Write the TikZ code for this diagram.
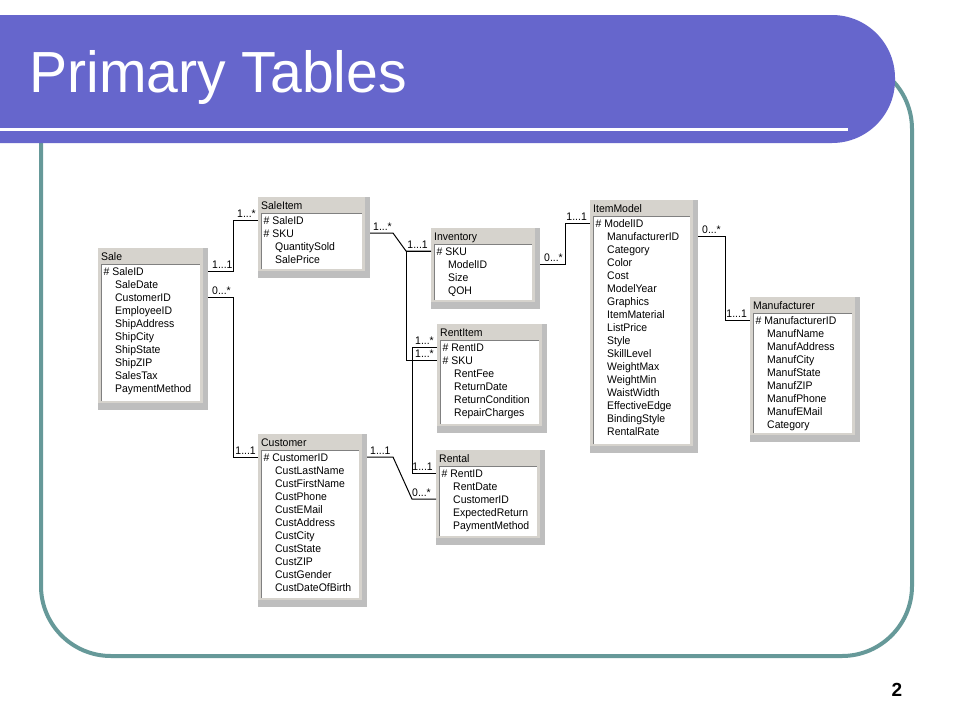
\documentclass[tikz,border=0pt]{standalone}
\usepackage{fontspec}
\setmainfont{Liberation Sans}
\newfontfamily\titlefont[FakeStretch=0.985]{Liberation Sans}
\newfontfamily\tabfont[FakeStretch=0.95]{Liberation Sans}
\usetikzlibrary{calc}
\definecolor{bannerc}{RGB}{102,102,204}
\definecolor{framec}{RGB}{102,153,153}
\definecolor{wingray}{RGB}{214,211,205}
\definecolor{shadowgray}{RGB}{190,190,190}
\definecolor{edgegray}{RGB}{128,128,128}
\tikzset{
  tabwin/.style={fill=shadowgray, inner sep=0pt, outer sep=0pt},
  hdrtext/.style={font=\tabfont\fontsize{11}{12}\selectfont, inner sep=0pt, anchor=west, text height=8pt, text depth=0pt},
  rowtext/.style={font=\tabfont\fontsize{11}{12}\selectfont, inner sep=0pt, anchor=west, text height=8pt, text depth=0pt},
  lbl/.style={font=\tabfont\fontsize{11}{12}\selectfont, inner sep=0pt},
  conn/.style={black, line width=1pt},
}
\newcommand\dbtab[8]{%
  \node[tabwin, minimum width=#4pt, minimum height=#5pt, anchor=north west] (#1) at (#2,#3) {};
  \fill[wingray] (#1.north west) rectangle ($(#1.south east)+(-5,-7)$);
  \fill[white] ($(#1.north west)+(3,16)$) rectangle ($(#1.south east)+(-8,-9)$);
  \draw[edgegray, line width=1pt] ($(#1.south west)+(3.5,-9)$) |- ($(#1.north east)+(-8,16.5)$);
  \node[hdrtext] (#1-t) at ($(#1.north west)+(3,8)$) {#6};
  \foreach \r [count=\i] in {#8} {
    \ifnum\i>#7\relax
      \node[rowtext] (#1-\i) at ($(#1.north west)+(17,{23+13.05*(\i-1)})$) {\r};
    \else
      \node[rowtext] (#1-\i) at ($(#1.north west)+(5.5,{23+13.05*(\i-1)})$) {\#~\r};
    \fi
  }%
}
\begin{document}
\begin{tikzpicture}[x=1pt, y=-1pt]
\useasboundingbox (0,0) rectangle (960,720);
\fill[white] (0,0) rectangle (960,720);
% frame
\draw[framec, line width=4pt, rounded corners=70] (41,59) rectangle (912,656);
% banner
\fill[bannerc, rounded corners=63] (-80,15) rectangle (895,143);
\fill[white] (0,127.5) rectangle (848,130.5);
\node[font=\titlefont\fontsize{58}{64}\selectfont, text=white, inner sep=0pt, anchor=base west] (title) at (29,92) {Primary Tables};
\node[font=\bfseries\fontsize{19}{22}\selectfont, inner sep=0pt] (pagenum) at (897,690) {2};

% tables
\dbtab{sale}{98}{248}{110}{162}{Sale}{1}{SaleID,SaleDate,CustomerID,EmployeeID,ShipAddress,ShipCity,ShipState,ShipZIP,SalesTax,PaymentMethod}
\dbtab{saleitem}{258}{197}{112}{81}{SaleItem}{2}{SaleID,SKU,QuantitySold,SalePrice}
\dbtab{inventory}{431}{228}{109}{81}{Inventory}{1}{SKU,ModelID,Size,QOH}
\dbtab{rentitem}{437}{324}{110}{109}{RentItem}{2}{RentID,SKU,RentFee,ReturnDate,ReturnCondition,RepairCharges}
\dbtab{rental}{436}{450}{109}{95}{Rental}{1}{RentID,RentDate,CustomerID,ExpectedReturn,PaymentMethod}
\dbtab{customer}{258}{434}{109}{173}{Customer}{1}{CustomerID,CustLastName,CustFirstName,CustPhone,CustEMail,CustAddress,CustCity,CustState,CustZIP,CustGender,CustDateOfBirth}
\dbtab{itemmodel}{590}{200}{108}{253}{ItemModel}{1}{ModelID,ManufacturerID,Category,Color,Cost,ModelYear,Graphics,ItemMaterial,ListPrice,Style,SkillLevel,WeightMax,WeightMin,WaistWidth,EffectiveEdge,BindingStyle,RentalRate}
\dbtab{manufacturer}{750}{297}{110}{145}{Manufacturer}{1}{ManufacturerID,ManufName,ManufAddress,ManufCity,ManufState,ManufZIP,ManufPhone,ManufEMail,Category}

% connectors
% Sale - SaleItem
\draw[conn] (sale.east |- sale-1) -- ++(25,0) |- (saleitem.west |- saleitem-1);
\node[lbl, anchor=base west] (l1a) at ($(sale.east |- sale-1)+(4,-3)$) {1...1};
\node[lbl, anchor=base east] (l1b) at ($(saleitem.west |- saleitem-1)+(-2,-3)$) {1...*};
% Sale - Customer
\draw[conn] (sale.east |- sale-3) -- ++(25,0) |- (customer.west |- customer-1);
\node[lbl, anchor=base west] (l2a) at ($(sale.east |- sale-3)+(4,-3)$) {0...*};
\node[lbl, anchor=base east] (l2b) at ($(customer.west |- customer-1)+(-2,-3)$) {1...1};
% SaleItem - Inventory
\draw[conn] (saleitem.east |- saleitem-2) -- ++(23,0) -- ($(inventory.west |- inventory-1)+(-25,0)$) -- (inventory.west |- inventory-1);
\node[lbl, anchor=base west] (l3a) at ($(saleitem.east |- saleitem-2)+(3,-3)$) {1...*};
\node[lbl, anchor=base east] (l3b) at ($(inventory.west |- inventory-1)+(-3,-3)$) {1...1};
% Inventory - RentItem
\draw[conn] (inventory.west |- inventory-1) -- ++(-25,0) |- (rentitem.west |- rentitem-2);
\node[lbl, anchor=base east] (l4b) at ($(rentitem.west |- rentitem-2)+(-3,-3)$) {1...*};
% RentItem - Rental
\draw[conn] (rentitem.west |- rentitem-1) -- ++(-25,0) |- (rental.west |- rental-1);
\node[lbl, anchor=base east] (l5a) at ($(rentitem.west |- rentitem-1)+(-3,-3)$) {1...*};
\node[lbl, anchor=base east] (l5b) at ($(rental.west |- rental-1)+(-3,-3)$) {1...1};
% Customer - Rental
\draw[conn] (customer.east |- customer-1) -- ++(26,0) -- ($(rental.west |- rental-3)+(-24,0)$) -- (rental.west |- rental-3);
\node[lbl, anchor=base west] (l6a) at ($(customer.east |- customer-1)+(3,-3)$) {1...1};
\node[lbl, anchor=base east] (l6b) at ($(rental.west |- rental-3)+(-5,-3)$) {0...*};
% Inventory - ItemModel
\draw[conn] (inventory.east |- inventory-2) -- ++(25,0) |- (itemmodel.west |- itemmodel-1);
\node[lbl, anchor=base west] (l7a) at ($(inventory.east |- inventory-2)+(4,-3)$) {0...*};
\node[lbl, anchor=base east] (l7b) at ($(itemmodel.west |- itemmodel-1)+(-3,-3)$) {1...1};
% ItemModel - Manufacturer
\draw[conn] (itemmodel.east |- itemmodel-2) -- ++(27,0) |- (manufacturer.west |- manufacturer-1);
\node[lbl, anchor=base west] (l8a) at ($(itemmodel.east |- itemmodel-2)+(4,-3)$) {0...*};
\node[lbl, anchor=base east] (l8b) at ($(manufacturer.west |- manufacturer-1)+(-3,-3)$) {1...1};
\end{tikzpicture}
\end{document}
